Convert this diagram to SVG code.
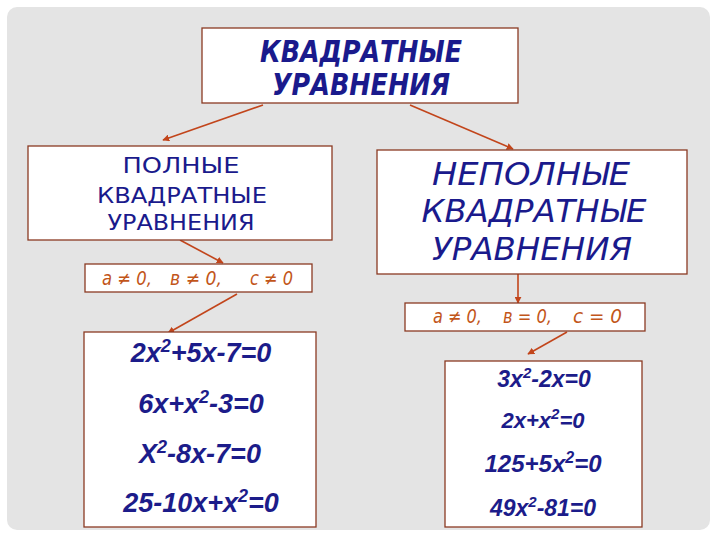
<svg xmlns="http://www.w3.org/2000/svg" width="720" height="540" viewBox="0 0 720 540">
<defs>
<marker id="ah" viewBox="0 0 10 10" refX="9" refY="5" markerWidth="7" markerHeight="7" markerUnits="userSpaceOnUse" orient="auto">
<path d="M0,0 L10,5 L0,10 z" fill="#c2451b"/>
</marker>
<style>
.box{fill:#ffffff;stroke:#8a3a22;stroke-width:1.3}
.head{font-family:"DejaVu Sans","Liberation Sans",sans-serif;fill:#1a1a8c;text-anchor:middle}
.cond{font-family:"DejaVu Sans","Liberation Sans",sans-serif;font-style:italic;fill:#c2561a;font-size:19px}
.eq{font-family:"Liberation Sans",Arial,sans-serif;font-weight:bold;font-style:italic;fill:#1c1c8a;text-anchor:middle}
.conn{stroke:#c2451b;stroke-width:1.6;fill:none;marker-end:url(#ah)}
</style>
</defs>
<rect x="0" y="0" width="720" height="540" fill="#ffffff"/>
<rect x="7" y="7" width="703" height="523" rx="10" ry="10" fill="#e4e4e4"/>

<g id="connectors">
<line class="conn" x1="263" y1="105" x2="163" y2="140"/>
<line class="conn" x1="410" y1="105" x2="513" y2="149"/>
<line class="conn" x1="180" y1="240" x2="223" y2="263"/>
<line class="conn" x1="237" y1="294" x2="168" y2="333"/>
<line class="conn" x1="518" y1="274" x2="518" y2="303"/>
<line class="conn" x1="567" y1="332" x2="528" y2="354"/>
</g>

<g id="root">
<rect class="box" x="202" y="28" width="316" height="75"/>
<text class="head" font-size="30" font-weight="bold" font-style="italic"><tspan x="361" y="62" textLength="202" lengthAdjust="spacingAndGlyphs">КВАДРАТНЫЕ</tspan><tspan x="361" y="95" textLength="178" lengthAdjust="spacingAndGlyphs">УРАВНЕНИЯ</tspan></text>
</g>

<g id="full">
<rect class="box" x="28" y="146" width="304" height="94"/>
<text class="head" font-size="22"><tspan x="181" y="173" textLength="117" lengthAdjust="spacingAndGlyphs">ПОЛНЫЕ</tspan><tspan x="182" y="203" textLength="170" lengthAdjust="spacingAndGlyphs">КВАДРАТНЫЕ</tspan><tspan x="181" y="230" textLength="147" lengthAdjust="spacingAndGlyphs">УРАВНЕНИЯ</tspan></text>
</g>

<g id="incomplete">
<rect class="box" x="377" y="150" width="310" height="124"/>
<text class="head" font-size="32" font-style="italic"><tspan x="531" y="185" textLength="198" lengthAdjust="spacingAndGlyphs">НЕПОЛНЫЕ</tspan><tspan x="534" y="222" textLength="225" lengthAdjust="spacingAndGlyphs">КВАДРАТНЫЕ</tspan><tspan x="532" y="260" textLength="200" lengthAdjust="spacingAndGlyphs">УРАВНЕНИЯ</tspan></text>
</g>

<g id="cond-full">
<rect class="box" x="85" y="264" width="227" height="28"/>
<text class="cond"><tspan x="102" y="285" textLength="50" lengthAdjust="spacingAndGlyphs">а ≠ 0,</tspan><tspan x="170" y="285" textLength="52" lengthAdjust="spacingAndGlyphs">в ≠ 0,</tspan><tspan x="250" y="285" textLength="43" lengthAdjust="spacingAndGlyphs">с ≠ 0</tspan></text>
</g>

<g id="cond-incomplete">
<rect class="box" x="405" y="303" width="240" height="28"/>
<text class="cond"><tspan x="433" y="323" textLength="49" lengthAdjust="spacingAndGlyphs">а ≠ 0,</tspan><tspan x="503" y="323" textLength="49" lengthAdjust="spacingAndGlyphs">в = 0,</tspan><tspan x="573" y="323" textLength="49" lengthAdjust="spacingAndGlyphs">с = 0</tspan></text>
</g>

<g id="eq-full">
<rect class="box" x="84" y="332" width="232" height="195"/>
<text class="eq" font-size="27" x="201" y="362">2x<tspan font-size="18" dy="-10">2</tspan><tspan dy="10">+5x-7=0</tspan></text>
<text class="eq" font-size="27" x="201" y="413">6x+x<tspan font-size="18" dy="-10">2</tspan><tspan dy="10">-3=0</tspan></text>
<text class="eq" font-size="27" x="200" y="463">X<tspan font-size="18" dy="-10">2</tspan><tspan dy="10">-8x-7=0</tspan></text>
<text class="eq" font-size="27" x="201" y="512">25-10x+x<tspan font-size="18" dy="-10">2</tspan><tspan dy="10">=0</tspan></text>
</g>

<g id="eq-incomplete">
<rect class="box" x="445" y="361" width="197" height="166"/>
<text class="eq" font-size="23" x="544" y="387">3x<tspan font-size="15" dy="-9">2</tspan><tspan dy="9">-2x=0</tspan></text>
<text class="eq" font-size="22" x="543" y="428">2x+x<tspan font-size="15" dy="-9">2</tspan><tspan dy="9">=0</tspan></text>
<text class="eq" font-size="24" x="543" y="472">125+5x<tspan font-size="16" dy="-9">2</tspan><tspan dy="9">=0</tspan></text>
<text class="eq" font-size="23" x="543" y="516">49x<tspan font-size="15" dy="-9">2</tspan><tspan dy="9">-81=0</tspan></text>
</g>
</svg>
